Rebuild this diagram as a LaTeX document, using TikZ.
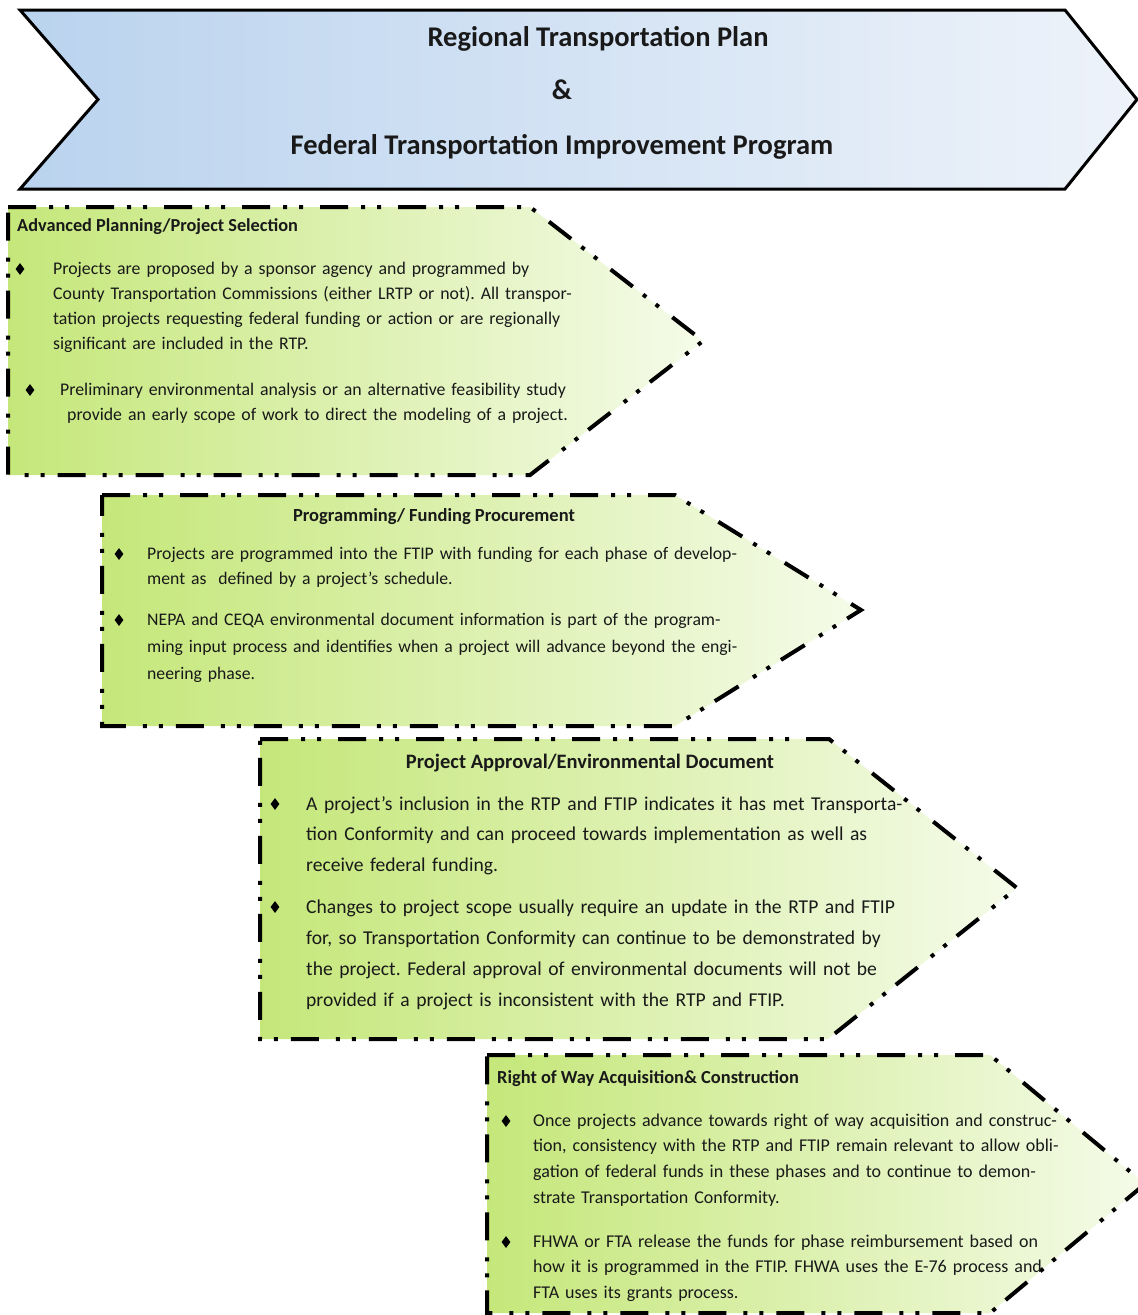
\documentclass[tikz,border=0pt]{standalone}
\usepackage{fontspec}
\setmainfont{Carlito}
\usetikzlibrary{shapes.geometric}
\frenchspacing

\definecolor{bannerL}{RGB}{186,211,238}
\definecolor{bannerM}{RGB}{209,225,243}
\definecolor{bannerR}{RGB}{238,243,250}
\definecolor{stageL}{RGB}{197,231,122}
\definecolor{stageM}{RGB}{216,239,160}
\definecolor{stageR}{RGB}{245,251,233}
\definecolor{inktext}{RGB}{25,25,25}

\tikzset{
  banner/.style={draw=black, line width=3pt, line join=miter,
    left color=bannerL, middle color=bannerM, right color=bannerR},
  stage/.style={draw=black, line width=4pt, line join=miter,
    dash pattern=on 28pt off 13pt on 4pt off 12pt on 4pt off 17pt,
    left color=stageL, middle color=stageM, right color=stageR},
  dia/.style={diamond, fill=black, inner sep=0pt, minimum width=9pt, minimum height=12pt},
  title/.style={anchor=base, inner sep=0pt, font=\bfseries\fontsize{28.5}{32}\selectfont, text=inktext},
  head/.style={inner sep=0pt, font=\bfseries\fontsize{#1}{#1}\selectfont, text=inktext},
  para/.style 2 args={anchor=base west, inner sep=0pt, text width=760pt, align=left,
    text=inktext, font=\fontsize{#1}{#2}\selectfont},
}

\begin{document}
\begin{tikzpicture}[x=1pt, y=-1pt]
\useasboundingbox (0,0) rectangle (1138,1315);
\fill[white] (0,0) rectangle (1138,1315);

% ---- banner: RTP & FTIP ----
\path[banner] (20,10) -- (1065,10) -- (1137,99.5) -- (1065,189) -- (20,189) -- (98,99.5) -- cycle;
\node[title] (t1) at (598,46) {Regional Transportation Plan};
\node[title] (t2) at (562,99) {\&};
\node[title] (t3) at (562,154) {Federal Transportation Improvement Program};

% ---- stage 1 ----
\path[stage] (8,207) -- (530,207) -- (703,341) -- (530,475) -- (8,475) -- cycle;
\node[head=18.3, anchor=base west] (h1) at (17,231) {Advanced Planning/Project Selection};
\node[dia] (b1a) at (20,269) {};
\node[para={17.8}{25}] (p1a) at (53,274) {Projects are proposed by a sponsor agency and programmed by\\
County Transportation Commissions (either LRTP or not). All transpor-\\
tation projects requesting federal funding or action or are regionally\\
significant are included in the RTP.};
\node[dia] (b1b) at (30,390) {};
\node[para={17.8}{25}] (p1b) at (60,395) {Preliminary environmental analysis or an alternative feasibility study\\
\hspace*{7pt}provide an early scope of work to direct the modeling of a project.};

% ---- stage 2 ----
\path[stage] (102,495) -- (675,495) -- (861,610) -- (675,726) -- (102,726) -- cycle;
\node[head=18.5, anchor=base] (h2) at (434,521) {Programming/ Funding Procurement};
\node[dia] (b2a) at (119,554) {};
\node[para={17.7}{25.5}] (p2a) at (147,559) {Projects are programmed into the FTIP with funding for each phase of develop-\\
ment as~~defined by a project’s schedule.};
\node[dia] (b2b) at (119,620) {};
\node[para={17.7}{27}] (p2b) at (147,625) {NEPA and CEQA environmental document information is part of the program-\\
ming input process and identifies when a project will advance beyond the engi-\\
neering phase.};

% ---- stage 3 ----
\path[stage] (260,739) -- (829,739) -- (1017,888) -- (828,1039) -- (260,1039) -- cycle;
\node[head=20.5, anchor=base] (h3) at (590,768) {Project Approval/Environmental Document};
\node[dia] (b3a) at (275,804) {};
\node[para={19.6}{30.5}] (p3a) at (306,810) {A project’s inclusion in the RTP and FTIP indicates it has met Transporta-\\
tion Conformity and can proceed towards implementation as well as\\
receive federal funding.};
\node[dia] (b3b) at (275,907) {};
\node[para={19.6}{31}] (p3b) at (306,913) {Changes to project scope usually require an update in the RTP and FTIP\\
for, so Transportation Conformity can continue to be demonstrated by\\
the project. Federal approval of environmental documents will not be\\
provided if a project is inconsistent with the RTP and FTIP.};

% ---- stage 4 ----
\path[stage] (487,1055) -- (990,1055) -- (1145,1184) -- (990,1313) -- (487,1313) -- cycle;
\node[head=18.4, anchor=base west] (h4) at (497,1083) {Right of Way Acquisition\& Construction};
\node[dia] (b4a) at (506,1121) {};
\node[para={18}{25.7}] (p4a) at (533,1126) {Once projects advance towards right of way acquisition and construc-\\
tion, consistency with the RTP and FTIP remain relevant to allow obli-\\
gation of federal funds in these phases and to continue to demon-\\
strate Transportation Conformity.};
\node[dia] (b4b) at (506,1242) {};
\node[para={18}{25.5}] (p4b) at (533,1247) {FHWA or FTA release the funds for phase reimbursement based on\\
how it is programmed in the FTIP. FHWA uses the E-76 process and\\
FTA uses its grants process.};
\end{tikzpicture}
\end{document}
